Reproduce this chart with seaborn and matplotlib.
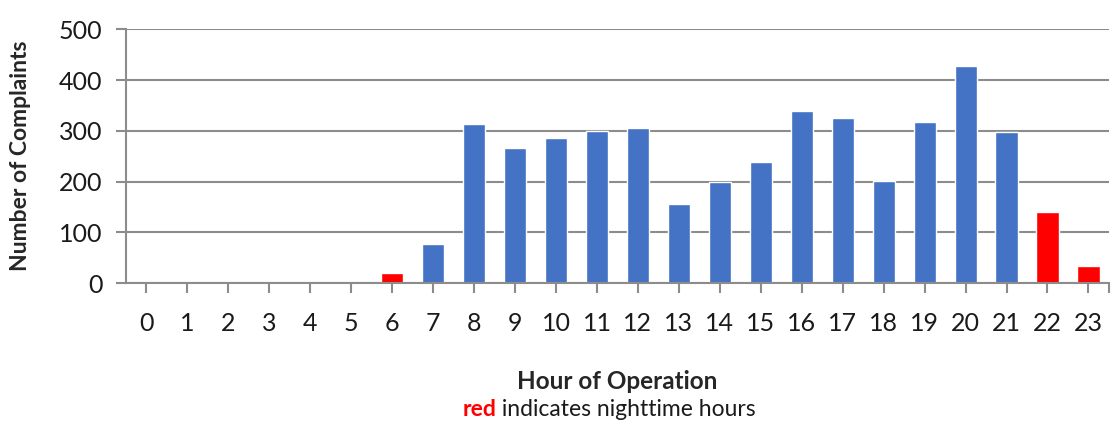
import matplotlib
matplotlib.use("Agg")
import matplotlib.pyplot as plt
import seaborn as sns
import pandas as pd

# Data
hours = list(range(24))
complaints = [0, 0, 0, 0, 0, 0, 21, 77, 313, 266, 285, 300, 305, 155, 199,
              238, 340, 325, 202, 317, 427, 298, 140, 33]
night_hours = [6, 22, 23]

BLUE = "#4472C4"
RED = "#FF0000"
GRID = "#8C8C8C"

df = pd.DataFrame({"hour": hours, "count": complaints})
df["period"] = ["night" if h in night_hours else "day" for h in df["hour"]]

sns.set_style("white")
plt.rcParams["font.family"] = ["Lato", "DejaVu Sans"]

fig = plt.figure(figsize=(11.19, 4.24), dpi=100)
ax = fig.add_axes([0.1126, 0.332, 0.8784, 0.599])

sns.barplot(data=df, x="hour", y="count", hue="period",
            palette={"day": BLUE, "night": RED}, width=0.54,
            dodge=False, legend=False, ax=ax, saturation=1)

ax.set_ylim(0, 500)
ax.set_xlim(-0.5, 23.5)
ax.set_yticks(range(0, 501, 100))
ax.yaxis.grid(True, color=GRID, linewidth=1.5)
ax.set_axisbelow(True)

for side in ["top", "right"]:
    ax.spines[side].set_visible(False)
for side in ["left", "bottom"]:
    ax.spines[side].set_color(GRID)
    ax.spines[side].set_linewidth(1.5)

ax.tick_params(axis="x", direction="out", length=7, width=1.5, color=GRID,
               bottom=True, labelsize=18, pad=14, labelcolor="#1a1a1a")
ax.tick_params(axis="y", direction="out", length=7, width=1.5, color=GRID,
               left=True, labelsize=18, pad=10, labelcolor="#1a1a1a")
ax.set_xticks([23.5], minor=True)
ax.tick_params(axis="x", which="minor", direction="out", length=7, width=1.5,
               color=GRID, bottom=True)

ax.set_ylabel("Number of Complaints", fontsize=16.5, fontweight="bold")
ax.yaxis.set_label_coords(-0.107, 0.5)
ax.yaxis.label.set_va("center")
ax.set_xlabel("Hour of Operation", fontsize=17.5, fontweight="bold")
ax.xaxis.set_label_coords(0.5, -0.385)
ax.xaxis.label.set_va("center")

# subtitle with a red first word
t1 = fig.text(0.413, 0.018, "red", color=RED, fontsize=16.5, fontweight="bold")
ax.annotate(" indicates nighttime hours", xy=(1, 0), xycoords=t1,
            va="bottom", ha="left", fontsize=16.5, color="#1a1a1a",
            annotation_clip=False)

fig.savefig("out.png", dpi=100)
